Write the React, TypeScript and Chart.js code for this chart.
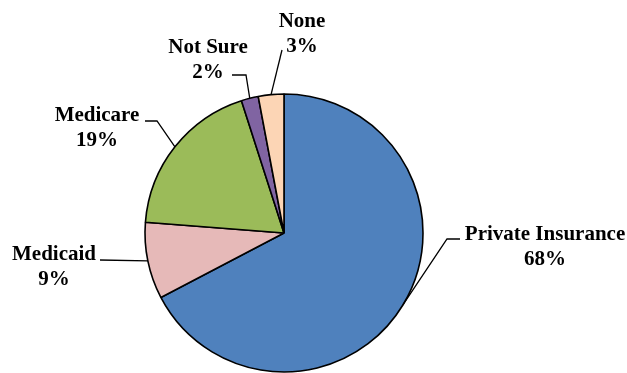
import React, { useEffect, useRef } from "react";
import { Chart, registerables } from "chart.js";

Chart.register(...registerables);

const categories = ["Private Insurance", "Medicaid", "Medicare", "Not Sure", "None"];
const values = [68, 9, 19, 2, 3];
const percentLabels = ["68%", "9%", "19%", "2%", "3%"];
const colors = ["#4F81BD", "#E6B9B8", "#9BBB59", "#8064A2", "#FCD5B5"];

// label layout, relative to the pie centre: elbow, line end, text centre x, first baseline
const labelLayout = [
  { elbow: [163, 6], end: [176, 6], tx: 261, ty: 7 },
  { elbow: [-184, 27], end: [-184, 27], tx: -230, ty: 27 },
  { elbow: [-127, -112], end: [-139, -112], tx: -187, ty: -112 },
  { elbow: [-38, -158], end: [-52, -158], tx: -76, ty: -180 },
  { elbow: [-2, -183], end: [-2, -183], tx: 18, ty: -206 },
];

const labelPlugin = {
  id: "pieLabels",
  afterDraw(chart: any) {
    const ctx = chart.ctx;
    const meta = chart.getDatasetMeta(0);
    ctx.save();
    ctx.strokeStyle = "#000";
    ctx.lineWidth = 1.3;
    ctx.fillStyle = "#000";
    ctx.font = "bold 21px 'Liberation Serif', 'Times New Roman', serif";
    ctx.textAlign = "center";
    ctx.textBaseline = "alphabetic";
    meta.data.forEach((arc: any, i: number) => {
      const p = arc.getProps(["x", "y", "startAngle", "endAngle", "outerRadius"], true);
      const mid = (p.startAngle + p.endAngle) / 2;
      const sx = p.x + Math.cos(mid) * p.outerRadius;
      const sy = p.y + Math.sin(mid) * p.outerRadius;
      const L = labelLayout[i];
      ctx.beginPath();
      ctx.moveTo(sx, sy);
      ctx.lineTo(p.x + L.elbow[0], p.y + L.elbow[1]);
      ctx.lineTo(p.x + L.end[0], p.y + L.end[1]);
      ctx.stroke();
      ctx.fillText(categories[i], p.x + L.tx, p.y + L.ty);
      ctx.fillText(percentLabels[i], p.x + L.tx, p.y + L.ty + 25);
    });
    ctx.restore();
  },
};

export default function App() {
  const ref = useRef<HTMLCanvasElement>(null);
  useEffect(() => {
    document.body.style.margin = "0";
    const chart = new Chart(ref.current!, {
      type: "pie",
      data: {
        labels: categories,
        datasets: [
          {
            data: values,
            backgroundColor: colors,
            borderColor: "#000",
            borderWidth: 1.6,
          },
        ],
      },
      options: {
        responsive: false,
        animation: false,
        radius: 139,
        layout: { padding: { left: 0, right: 59, top: 93, bottom: 0 } },
        plugins: {
          legend: { display: false },
          tooltip: { enabled: false },
        },
      } as any,
      plugins: [labelPlugin],
    });
    return () => chart.destroy();
  }, []);
  return (
    <div style={{ position: "absolute", left: 0, top: 0, width: 627, height: 373, background: "#fff" }}>
      <canvas ref={ref} width={627} height={373} />
    </div>
  );
}
